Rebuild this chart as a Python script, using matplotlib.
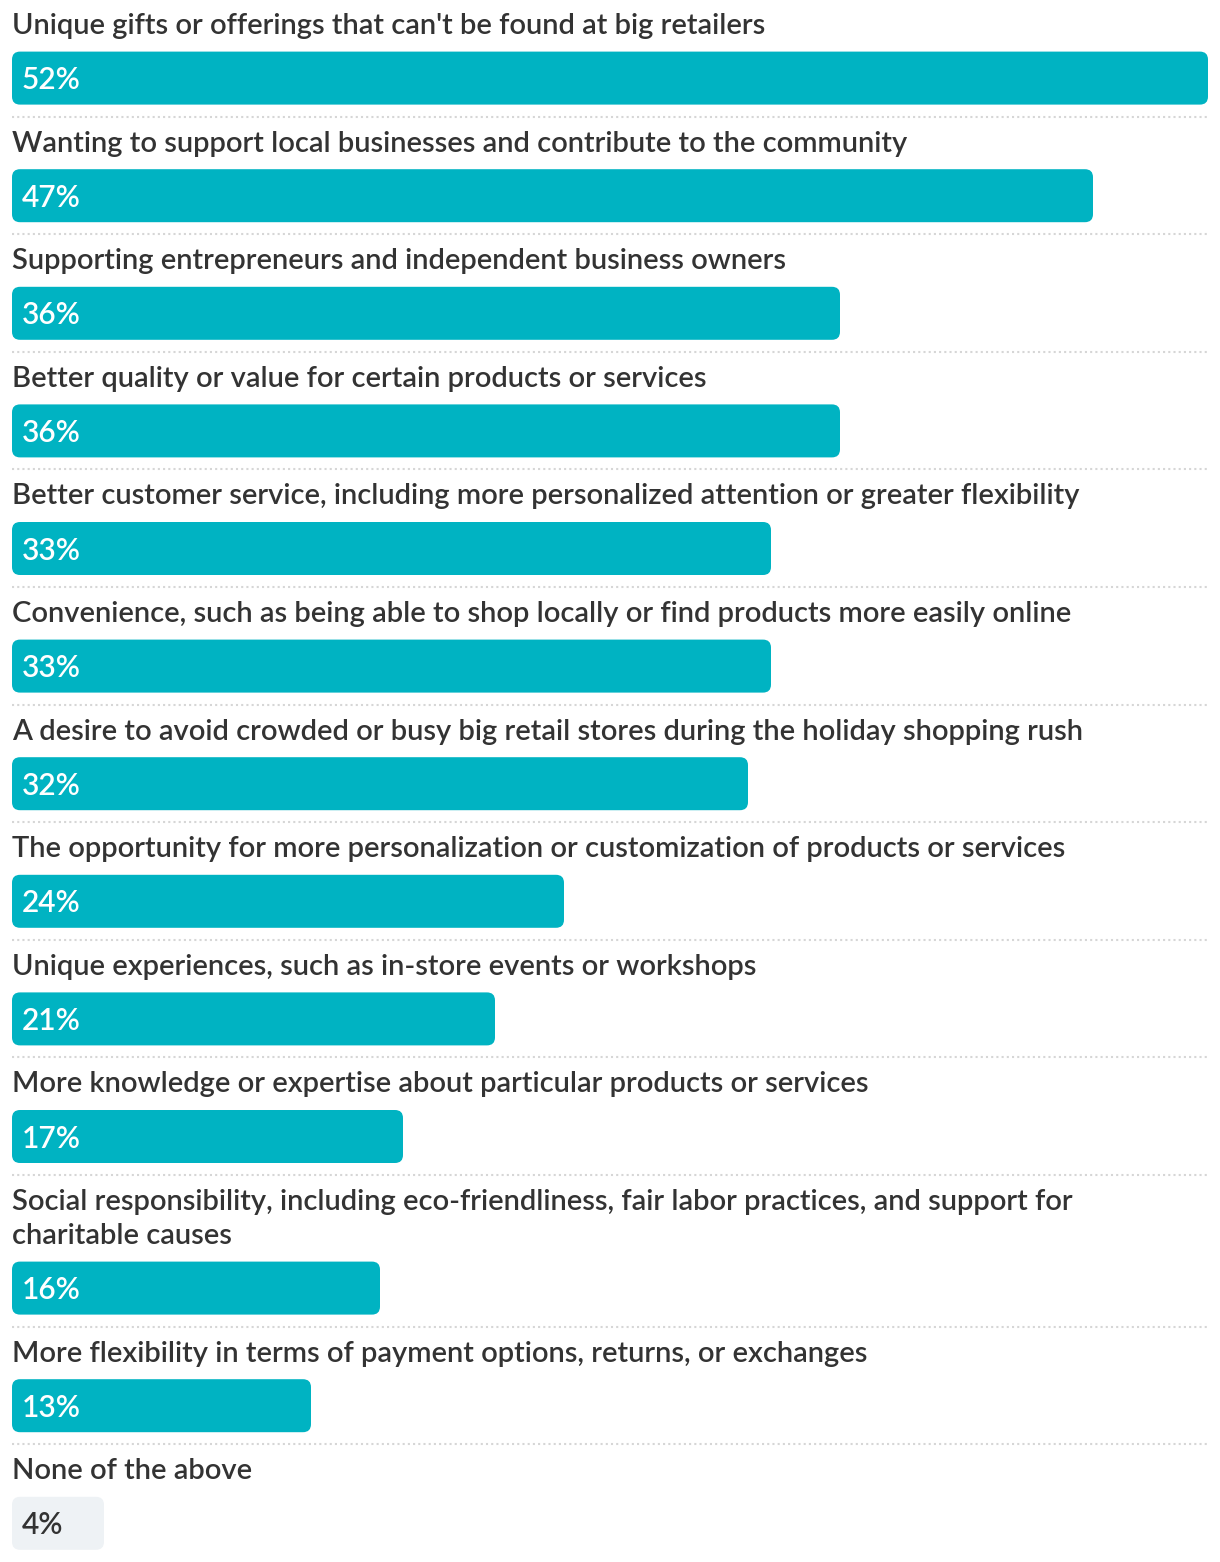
import matplotlib
matplotlib.use('Agg')
import matplotlib.pyplot as plt
from matplotlib.patches import FancyBboxPatch

categories = [
    "Unique gifts or offerings that can't be found at big retailers",
    "Wanting to support local businesses and contribute to the community",
    "Supporting entrepreneurs and independent business owners",
    "Better quality or value for certain products or services",
    "Better customer service, including more personalized attention or greater flexibility",
    "Convenience, such as being able to shop locally or find products more easily online",
    "A desire to avoid crowded or busy big retail stores during the holiday shopping rush",
    "The opportunity for more personalization or customization of products or services",
    "Unique experiences, such as in-store events or workshops",
    "More knowledge or expertise about particular products or services",
    "Social responsibility, including eco-friendliness, fair labor practices, and support for\ncharitable causes",
    "More flexibility in terms of payment options, returns, or exchanges",
    "None of the above",
]
values = [52, 47, 36, 36, 33, 33, 32, 24, 21, 17, 16, 13, 4]
highlight = [True] * 12 + [False]

teal = '#00B3C2'
grey_bar = '#EEF2F5'
text_dark = '#333333'

W, H = 1220, 1562
fig = plt.figure(figsize=(W / 100, H / 100), dpi=100)
ax = fig.add_axes([0, 0, 1, 1])
px_per_pct = 23.0
left_px = 12
ax.set_xlim(-left_px / px_per_pct, (W - left_px) / px_per_pct)
ax.set_ylim(H, 0)
ax.axis('off')

font = 'Lato'
label_size = 21
weight = 'semibold'
line_gap = 34
bar_h = 53
nudge = 2  # text sits a touch low in the original

y = 24
for i, (cat, val) in enumerate(zip(categories, values)):
    lines = cat.split('\n')
    for k, line in enumerate(lines):
        ax.text(0, y + k * line_gap + nudge, line, fontsize=label_size, family=font,
                weight=weight, color=text_dark, va='center', ha='left')
    last_line = y + (len(lines) - 1) * line_gap
    top = last_line + 27.6
    color = teal if highlight[i] else grey_bar
    box = FancyBboxPatch((0, top), val, bar_h,
                         boxstyle='round,pad=0,rounding_size=%f' % (8 / px_per_pct),
                         mutation_aspect=px_per_pct, fc=color, ec='none')
    ax.add_patch(box)
    ax.text(10 / px_per_pct, top + bar_h / 2 + nudge, '%d%%' % val,
            fontsize=label_size + 0.5, family=font, weight=weight,
            color='white' if highlight[i] else text_dark,
            va='center', ha='left')
    bottom = top + bar_h
    if i < len(categories) - 1:
        sep = bottom + 12
        ax.plot([0, 52], [sep, sep], color='#D6D6D6', lw=1.5,
                linestyle=(0, (1, 1.5)))
        y = sep + 25

fig.savefig('out.png', dpi=100)
